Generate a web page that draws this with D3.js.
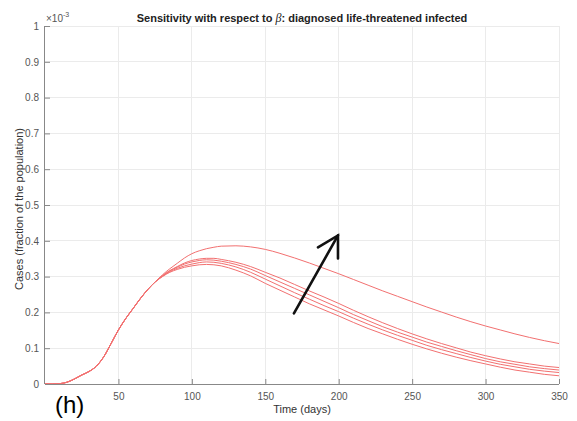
<!DOCTYPE html>
<html>
<head>
<meta charset="utf-8">
<script src="https://cdn.jsdelivr.net/npm/d3@7"></script>
<style>
  html, body { margin: 0; padding: 0; background: #fff; }
  svg { display: block; font-family: "Liberation Sans", Arial, sans-serif; }
</style>
</head>
<body>
<svg id="chart" width="577" height="421"></svg>
<script>
// ---- data (values in units of 1e-3) ----
const days = [0,5,10,15,20,25,30,35,40,45,50,55,60,65,70,75,80,85,90,95,100,105,110,115,120,130,140,150,160,170,180,190,200,210,220,230,240,250,260,270,280,290,300,310,320,330,340,350];
const common = [0,0,0.001,0.005,0.014,0.025,0.035,0.050,0.076,0.113,0.151,0.183,0.211,0.239,0.264,0.285];
const seriesA = common.concat([0.305,0.322,0.337,0.352,0.364,0.372,0.378,0.382,0.385,0.386,0.383,0.376,0.365,0.352,0.338,0.323,0.308,0.292,0.276,0.260,0.245,0.230,0.215,0.201,0.187,0.174,0.162,0.151,0.140,0.130,0.121,0.113]);
const seriesB = common.concat([0.303,0.317,0.328,0.338,0.345,0.349,0.351,0.351,0.348,0.340,0.328,0.312,0.296,0.278,0.260,0.243,0.225,0.206,0.188,0.171,0.155,0.140,0.126,0.113,0.101,0.089,0.079,0.070,0.062,0.056,0.050,0.046]);
const seriesC = common.concat([0.302,0.316,0.326,0.335,0.341,0.345,0.347,0.346,0.343,0.334,0.321,0.303,0.285,0.267,0.249,0.231,0.213,0.194,0.177,0.160,0.145,0.131,0.117,0.105,0.093,0.082,0.071,0.062,0.055,0.048,0.043,0.039]);
const seriesD = common.concat([0.301,0.314,0.323,0.330,0.335,0.339,0.341,0.340,0.337,0.327,0.312,0.293,0.274,0.255,0.237,0.219,0.202,0.184,0.167,0.151,0.136,0.122,0.108,0.096,0.085,0.074,0.064,0.055,0.048,0.041,0.036,0.032]);
const seriesE = common.concat([0.300,0.312,0.320,0.326,0.330,0.333,0.334,0.333,0.330,0.318,0.302,0.281,0.262,0.243,0.224,0.207,0.190,0.172,0.155,0.140,0.125,0.111,0.098,0.086,0.075,0.065,0.056,0.047,0.039,0.033,0.027,0.023]);
const allSeries = [seriesA, seriesB, seriesC, seriesD, seriesE];
const xTicks = [50,100,150,200,250,300,350];
const yTicks = [0,0.1,0.2,0.3,0.4,0.5,0.6,0.7,0.8,0.9,1];
const yTickLabels = ["0","0.1","0.2","0.3","0.4","0.5","0.6","0.7","0.8","0.9","1"];
const arrowDays = [169.5, 199.5];
const arrowVals = [0.197, 0.415];

// ---- layout ----
const L = 45, R = 559, T = 26, B = 384;
const svg = d3.select("#chart");
const x = d3.scaleLinear().domain([0, 350]).range([L, R]);
const y = d3.scaleLinear().domain([0, 1]).range([B, T]);

// grid
const grid = svg.append("g");
grid.selectAll("line.gx").data(xTicks).join("line")
  .attr("x1", d => x(d)).attr("x2", d => x(d)).attr("y1", T).attr("y2", B)
  .attr("stroke", "#ebebeb").attr("stroke-width", 1).attr("shape-rendering", "crispEdges");
grid.selectAll("line.gy").data(yTicks.slice(1)).join("line")
  .attr("x1", L).attr("x2", R).attr("y1", d => y(d)).attr("y2", d => y(d))
  .attr("stroke", "#ebebeb").attr("stroke-width", 1).attr("shape-rendering", "crispEdges");

// curves
const line = d3.line().x((d, i) => x(days[i])).y(d => y(d)).curve(d3.curveMonotoneX);
svg.append("g").selectAll("path").data(allSeries).join("path")
  .attr("d", d => line(d))
  .attr("fill", "none").attr("stroke", "#f27070")
  .attr("stroke-width", 1);

// axes (MATLAB style: ticks inward)
const axColor = "#888";
const xAxis = d3.axisBottom(x).tickValues(xTicks).tickSize(-5).tickPadding(9).tickFormat(d3.format("d"));
const gx = svg.append("g").attr("transform", `translate(0,${B})`).call(xAxis);
gx.select(".domain").attr("stroke", axColor).attr("d", `M${L},0.5H${R}`);
gx.selectAll(".tick line").attr("stroke", axColor);
gx.selectAll(".tick text").attr("fill", "#555").attr("font-size", 10).attr("font-family", "Liberation Sans, Arial, sans-serif");

const yAxis = d3.axisLeft(y).tickValues(yTicks).tickSize(-5).tickPadding(6).tickFormat((d, i) => yTickLabels[i]);
const gy = svg.append("g").attr("transform", `translate(${L},0)`).call(yAxis);
gy.select(".domain").attr("stroke", axColor).attr("d", `M-0.5,${T}V${B}`);
gy.selectAll(".tick line").attr("stroke", axColor);
gy.selectAll(".tick text").attr("fill", "#555").attr("font-size", 10).attr("font-family", "Liberation Sans, Arial, sans-serif");

// exponent label
const ex = svg.append("text").attr("x", L + 1).attr("y", 22).attr("fill", "#555")
  .attr("font-size", 10);
ex.append("tspan").text("×10");
ex.append("tspan").attr("dy", -5).attr("font-size", 7).text("-3");

// arrow annotation
const ax0 = x(arrowDays[0]), ay0 = y(arrowVals[0]), ax1 = x(arrowDays[1]), ay1 = y(arrowVals[1]);
svg.append("line").attr("x1", ax0).attr("y1", ay0).attr("x2", ax1).attr("y2", ay1)
  .attr("stroke", "#111").attr("stroke-width", 2.6).attr("stroke-linecap", "round");
svg.append("path")
  .attr("d", `M${ax1 - 20},${ay1 + 12}L${ax1},${ay1}L${ax1},${ay1 + 23}`)
  .attr("fill", "none").attr("stroke", "#111").attr("stroke-width", 2.6)
  .attr("stroke-linecap", "round").attr("stroke-linejoin", "miter");

// title
const title = svg.append("text").attr("x", (L + R) / 2).attr("y", 21.5)
  .attr("text-anchor", "middle").attr("font-weight", "bold").attr("font-size", 11).attr("fill", "#222");
title.append("tspan").text("Sensitivity with respect to ");
title.append("tspan").attr("font-family", "Liberation Serif, Times New Roman, serif").attr("font-style", "italic").attr("font-weight", "normal").attr("font-size", 12).text("β");
title.append("tspan").text(": diagnosed life-threatened infected");

// axis labels
svg.append("text").attr("x", (L + R) / 2).attr("y", 413).attr("text-anchor", "middle")
  .attr("font-size", 11).attr("fill", "#333").text("Time (days)");
svg.append("text").attr("transform", `translate(23,${(T + B) / 2 + 4}) rotate(-90)`)
  .attr("text-anchor", "middle").attr("font-size", 11).attr("fill", "#333")
  .text("Cases (fraction of the population)");

// panel label
svg.append("text").attr("x", 55).attr("y", 413).attr("font-size", 24).attr("fill", "#000").text("(h)");
</script>
</body>
</html>
